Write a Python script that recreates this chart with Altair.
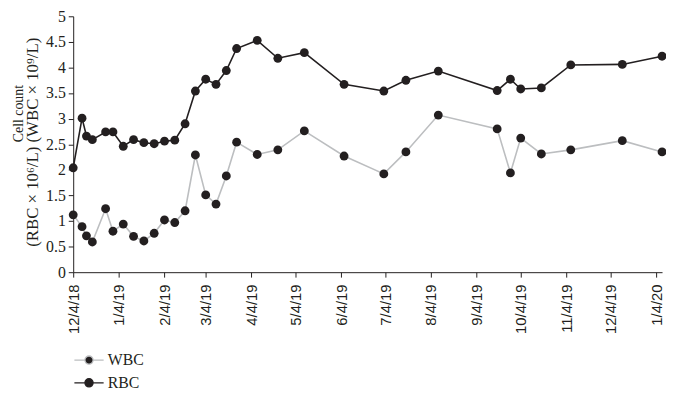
import altair as alt
import pandas as pd

# ---- data ----
dates = [
    "2018/12/04", "2018/12/10", "2018/12/13", "2018/12/17", "2018/12/26", "2018/12/31",
    "2019/01/07", "2019/01/14", "2019/01/21", "2019/01/28", "2019/02/04", "2019/02/11",
    "2019/02/18", "2019/02/25", "2019/03/04", "2019/03/11", "2019/03/18", "2019/03/25",
    "2019/04/08", "2019/04/22", "2019/05/10", "2019/06/06", "2019/07/03", "2019/07/18",
    "2019/08/09", "2019/09/18", "2019/09/27", "2019/10/04", "2019/10/18", "2019/11/07",
    "2019/12/12", "2020/01/08",
]
rbc = [2.04, 3.01, 2.66, 2.59, 2.74, 2.74, 2.46, 2.59, 2.53, 2.51, 2.56, 2.58,
       2.90, 3.54, 3.77, 3.67, 3.94, 4.37, 4.53, 4.18, 4.29, 3.67, 3.54, 3.75,
       3.93, 3.55, 3.77, 3.58, 3.60, 4.05, 4.06, 4.22]
wbc = [1.12, 0.89, 0.71, 0.59, 1.24, 0.80, 0.94, 0.70, 0.61, 0.76, 1.02, 0.97,
       1.20, 2.29, 1.51, 1.33, 1.88, 2.54, 2.30, 2.39, 2.76, 2.27, 1.92, 2.35,
       3.07, 2.80, 1.94, 2.62, 2.31, 2.39, 2.57, 2.35]
series_names = ["WBC", "RBC"]
series_colors = ["#bcbec0", "#231f20"]
marker_colors = ["#231f20", "#231f20"]
y_ticks = [0, 0.5, 1, 1.5, 2, 2.5, 3, 3.5, 4, 4.5, 5]
tick_months = [(2018, 12)] + [(2019, m) for m in range(1, 13)] + [(2020, 1)]

rows = []
for d, v in zip(dates, wbc):
    rows.append({"date": d, "value": v, "series": "WBC"})
for d, v in zip(dates, rbc):
    rows.append({"date": d, "value": v, "series": "RBC"})
df = pd.DataFrame(rows)

x_values = [alt.DateTime(year=y, month=m, date=4) for (y, m) in tick_months]

x_enc = alt.X(
    "date:T",
    scale=alt.Scale(domain=[alt.DateTime(year=2018, month=12, date=4),
                            alt.DateTime(year=2020, month=1, date=8)], nice=False),
    axis=alt.Axis(values=x_values, format="%-m/%-d/%y", labelAngle=270,
                  labelFont="Liberation Sans", labelFontSize=15, labelColor="#231f20",
                  tickSize=5, labelPadding=7, grid=False, title=None,
                  domainColor="#231f20", tickColor="#231f20", labelOverlap=False),
)
y_enc = alt.Y(
    "value:Q",
    scale=alt.Scale(domain=[0, 5], nice=False),
    axis=alt.Axis(values=y_ticks, format="~g", grid=False,
                  labelFont="Liberation Serif", labelFontSize=16, labelColor="#231f20",
                  tickSize=5, labelPadding=3, domainColor="#231f20", tickColor="#231f20",
                  title="(RBC × 10⁶/L) (WBC × 10⁹/L)",
                  titleFont="Liberation Serif", titleFontSize=17, titleFontWeight="normal",
                  titleColor="#231f20", titleAngle=270, titleX=-36, titleY=127,
                  titleBaseline="alphabetic", titleAlign="center"),
)

legend_symbol = ("M-1.85,0H-0.52M0.52,0H1.85"
                 "M-0.52,0A0.52,0.52 0 1,1 0.52,0A0.52,0.52 0 1,1 -0.52,0Z")
legend = alt.Legend(title=None, orient="none", legendX=7, legendY=339,
                    symbolType=legend_symbol, symbolSize=256,
                    symbolStrokeWidth=1.3,
                    labelFont="Liberation Serif", labelFontSize=16,
                    labelColor="#231f20", labelOffset=10, rowPadding=6,
                    padding=0)

lines = alt.Chart(df).mark_line(strokeWidth=1.6).encode(
    x=x_enc,
    y=y_enc,
    stroke=alt.Stroke("series:N",
                      scale=alt.Scale(domain=series_names, range=series_colors),
                      legend=legend),
    order=alt.Order("date:T"),
)

points = alt.Chart(df).mark_point(filled=True, size=80, opacity=1).encode(
    x=x_enc,
    y=y_enc,
    fill=alt.Fill("series:N",
                  scale=alt.Scale(domain=series_names, range=marker_colors),
                  legend=legend),
)

chart = alt.layer(lines, points).properties(
    width=596,
    height=259,
    autosize=alt.AutoSizeParams(type="none"),
    padding={"left": 66, "top": 6, "right": 4, "bottom": 129},
    background="white",
    title=alt.TitleParams(text="Cell count", orient="left", anchor="middle",
                          font="Liberation Serif", fontSize=14, fontWeight="normal",
                          color="#231f20", offset=4, dx=31, dy=6),
).configure_view(stroke=None)

chart.save("out.html", embed_options={"renderer": "svg", "actions": False})
